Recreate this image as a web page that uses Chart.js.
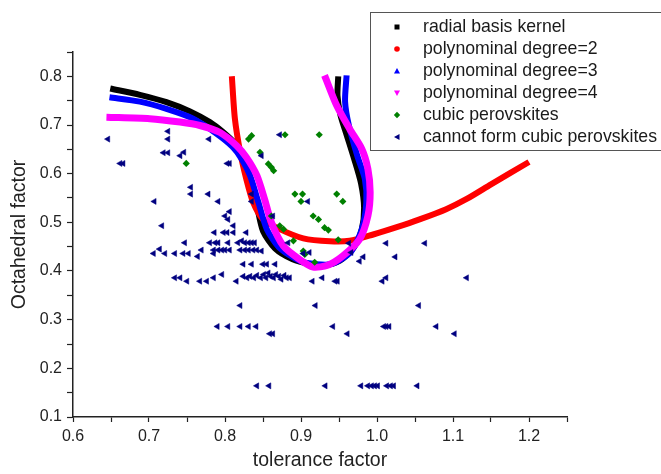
<!DOCTYPE html>
<html>
<head>
<meta charset="utf-8">
<script src="https://cdn.jsdelivr.net/npm/chart.js@4"></script>
<style>
  html, body { margin: 0; padding: 0; background: #fff; }
  #wrap { width: 661px; height: 474px; }
</style>
</head>
<body>
<div id="wrap"><canvas id="chart" width="661" height="474"></canvas></div>
<script>
// Series names (legend order)
const seriesNames = [
  'radial basis kernel',
  'polynominal degree=2',
  'polynominal degree=3',
  'polynominal degree=4',
  'cubic perovskites',
  'cannot form cubic perovskites'
];

// Decision boundaries, [tolerance, octahedral]
const rbfCurve = [
  [0.649, 0.775], [0.688, 0.762], [0.723, 0.747], [0.754, 0.728], [0.780, 0.706],
  [0.797, 0.686], [0.812, 0.664], [0.826, 0.630], [0.835, 0.580], [0.842, 0.534],
  [0.850, 0.482], [0.866, 0.446], [0.889, 0.424], [0.912, 0.414], [0.930, 0.411],
  [0.951, 0.421], [0.970, 0.450], [0.980, 0.486], [0.983, 0.530], [0.979, 0.580],
  [0.970, 0.630], [0.960, 0.680], [0.952, 0.720], [0.948, 0.760], [0.949, 0.800]
];
const poly2Curve = [
  [0.809, 0.800], [0.813, 0.713], [0.820, 0.644], [0.828, 0.589], [0.837, 0.541],
  [0.850, 0.506], [0.872, 0.486], [0.903, 0.467], [0.938, 0.461], [0.964, 0.462],
  [0.995, 0.475], [1.026, 0.490], [1.056, 0.506], [1.091, 0.527], [1.118, 0.548],
  [1.150, 0.578], [1.200, 0.624]
];
const poly3Curve = [
  [0.648, 0.757], [0.688, 0.748], [0.723, 0.733], [0.758, 0.713], [0.789, 0.682],
  [0.810, 0.655], [0.822, 0.630], [0.833, 0.596], [0.844, 0.541], [0.855, 0.486],
  [0.872, 0.447], [0.898, 0.421], [0.920, 0.414], [0.942, 0.415], [0.966, 0.440],
  [0.980, 0.486], [0.986, 0.541], [0.984, 0.589], [0.974, 0.637], [0.963, 0.699],
  [0.958, 0.748], [0.960, 0.802]
];
const poly4Curve = [
  [0.644, 0.716], [0.701, 0.713], [0.741, 0.706], [0.767, 0.699], [0.793, 0.685],
  [0.815, 0.658], [0.828, 0.634], [0.842, 0.596], [0.852, 0.548], [0.861, 0.500],
  [0.877, 0.451], [0.898, 0.424], [0.916, 0.408], [0.935, 0.412], [0.955, 0.431],
  [0.977, 0.465], [0.988, 0.513], [0.991, 0.562], [0.988, 0.610], [0.980, 0.651],
  [0.964, 0.692], [0.947, 0.740], [0.931, 0.802]
];

// Samples
const cubicPoints = [
  [0.749, 0.621], [0.831, 0.671], [0.835, 0.678], [0.846, 0.644], [0.857, 0.620],
  [0.861, 0.613], [0.864, 0.606], [0.879, 0.680], [0.924, 0.680], [0.892, 0.558],
  [0.902, 0.558], [0.900, 0.543], [0.947, 0.558], [0.955, 0.543], [0.916, 0.513],
  [0.923, 0.506], [0.931, 0.489], [0.936, 0.484], [0.861, 0.513], [0.872, 0.493],
  [0.877, 0.486], [0.890, 0.462], [0.903, 0.441], [0.905, 0.434], [0.918, 0.418],
  [0.949, 0.464]
];
const nonCubicPoints = [
  [0.646, 0.671], [0.662, 0.621], [0.666, 0.621], [0.725, 0.687], [0.725, 0.671],
  [0.719, 0.643], [0.725, 0.643], [0.741, 0.637], [0.746, 0.644], [0.779, 0.671],
  [0.803, 0.621], [0.806, 0.621], [0.872, 0.680], [0.848, 0.637],
  [0.755, 0.572], [0.755, 0.558], [0.778, 0.558], [0.791, 0.543], [0.707, 0.543],
  [0.835, 0.558], [0.835, 0.543], [0.909, 0.543], [0.717, 0.493], [0.806, 0.522],
  [0.800, 0.513], [0.804, 0.506], [0.811, 0.493], [0.863, 0.513],
  [0.786, 0.479], [0.798, 0.479], [0.803, 0.479], [0.811, 0.479], [0.828, 0.479],
  [0.747, 0.458], [0.780, 0.458], [0.787, 0.458], [0.791, 0.458], [0.804, 0.458],
  [0.817, 0.458], [0.822, 0.462], [0.826, 0.458], [0.831, 0.458], [0.835, 0.458],
  [0.839, 0.458], [0.883, 0.458], [0.963, 0.457], [1.012, 0.457], [1.063, 0.457],
  [0.714, 0.445], [0.769, 0.443], [0.785, 0.443], [0.791, 0.443], [0.796, 0.443],
  [0.800, 0.443], [0.806, 0.443], [0.820, 0.443], [0.826, 0.443], [0.831, 0.443],
  [0.837, 0.443], [0.842, 0.443], [0.848, 0.441],
  [0.706, 0.436], [0.721, 0.436], [0.734, 0.436], [0.745, 0.436], [0.752, 0.436],
  [0.764, 0.430], [0.785, 0.436], [0.903, 0.436], [0.911, 0.438], [0.966, 0.438],
  [0.982, 0.429], [0.977, 0.420], [1.024, 0.429],
  [0.824, 0.414], [0.835, 0.414], [0.850, 0.414], [0.855, 0.414], [0.866, 0.414],
  [0.734, 0.386], [0.741, 0.386], [0.750, 0.379], [0.767, 0.379], [0.776, 0.379],
  [0.785, 0.386], [0.796, 0.393], [0.815, 0.379], [0.824, 0.389], [0.829, 0.386],
  [0.833, 0.389], [0.838, 0.386], [0.842, 0.391], [0.847, 0.386], [0.851, 0.393],
  [0.854, 0.386], [0.857, 0.396], [0.860, 0.389], [0.864, 0.386], [0.867, 0.393],
  [0.871, 0.389], [0.874, 0.383], [0.878, 0.391], [0.881, 0.386], [0.885, 0.386],
  [0.915, 0.379], [0.928, 0.386], [0.945, 0.379], [0.948, 0.379], [1.007, 0.379],
  [1.012, 0.386], [1.118, 0.386],
  [0.820, 0.329], [0.919, 0.329], [1.055, 0.329],
  [0.790, 0.286], [0.804, 0.286], [0.820, 0.286], [0.831, 0.286], [0.841, 0.286],
  [0.942, 0.286], [1.009, 0.286], [1.012, 0.286], [1.016, 0.286], [1.078, 0.286],
  [0.859, 0.271], [0.863, 0.271], [0.961, 0.271], [1.102, 0.271],
  [0.842, 0.164], [0.858, 0.164], [0.932, 0.164], [0.979, 0.164], [0.988, 0.164],
  [0.993, 0.164], [0.997, 0.164], [1.001, 0.164], [1.013, 0.164], [1.018, 0.164],
  [1.022, 0.164], [1.053, 0.164]
];

const colors = ['#000000', '#ff0000', '#0000ff', '#ff00ff', '#008000', '#000080'];

const toXY = arr => arr.map(p => ({ x: p[0], y: p[1] }));

function curve(i, pts, width, order) {
  return {
    label: seriesNames[i],
    data: toXY(pts),
    showLine: true,
    borderColor: colors[i],
    borderWidth: width,
    pointRadius: 0,
    tension: 0.25,
    order: order
  };
}

// Legend drawn inside a box, like the original figure
const boxLegend = {
  id: 'boxLegend',
  afterDraw(chart) {
    const ctx = chart.ctx;
    const left = 370, top = 12, rowH = 22;
    ctx.save();
    ctx.fillStyle = '#fff';
    ctx.fillRect(left, top, 300, 138);
    ctx.strokeStyle = '#555';
    ctx.lineWidth = 1;
    ctx.strokeRect(left + 0.5, top + 0.5, 300, 138);
    ctx.font = '17.7px "Liberation Sans", Arial, sans-serif';
    ctx.textBaseline = 'middle';
    seriesNames.forEach((name, i) => {
      const y = top + 15 + i * rowH;
      const x = 397;
      ctx.fillStyle = colors[i];
      ctx.beginPath();
      if (i === 0) {
        ctx.rect(x - 2.5, y - 2.5, 5, 5);
      } else if (i === 1) {
        ctx.arc(x, y, 2.8, 0, Math.PI * 2);
      } else if (i === 2) {
        ctx.moveTo(x, y - 3); ctx.lineTo(x + 3, y + 2.5); ctx.lineTo(x - 3, y + 2.5);
      } else if (i === 3) {
        ctx.moveTo(x, y + 3); ctx.lineTo(x + 3, y - 2.5); ctx.lineTo(x - 3, y - 2.5);
      } else if (i === 4) {
        ctx.moveTo(x, y - 3.2); ctx.lineTo(x + 3.2, y); ctx.lineTo(x, y + 3.2); ctx.lineTo(x - 3.2, y);
      } else {
        ctx.moveTo(x - 3, y); ctx.lineTo(x + 2.5, y - 3); ctx.lineTo(x + 2.5, y + 3);
      }
      ctx.closePath();
      ctx.fill();
      ctx.fillStyle = '#1a1a1a';
      ctx.fillText(name, 423, y);
    });
    ctx.restore();
  }
};

function tickLabel(v) {
  const t = Math.round(v * 100);
  return t % 10 === 0 ? (t / 100).toFixed(1) : '';
}

const axisColor = '#222';
const fontFamily = '"Liberation Sans", Arial, sans-serif';

new Chart(document.getElementById('chart'), {
  type: 'scatter',
  data: {
    datasets: [
      curve(0, rbfCurve, 6, 5),
      curve(1, poly2Curve, 6, 4),
      curve(2, poly3Curve, 6, 3),
      curve(3, poly4Curve, 7, 2),
      {
        label: seriesNames[4],
        data: toXY(cubicPoints),
        pointStyle: 'rectRot',
        pointRadius: 3.6,
        pointBorderWidth: 0,
        backgroundColor: colors[4],
        borderColor: colors[4],
        order: 1
      },
      {
        label: seriesNames[5],
        data: toXY(nonCubicPoints),
        pointStyle: 'triangle',
        rotation: -90,
        pointRadius: 3.5,
        pointBorderWidth: 0.5,
        backgroundColor: colors[5],
        borderColor: colors[5],
        order: 0
      }
    ]
  },
  options: {
    responsive: false,
    animation: false,
    events: [],
    layout: { padding: { top: 52, right: 94, left: 0, bottom: 0 } },
    plugins: { legend: { display: false }, tooltip: { enabled: false } },
    scales: {
      x: {
        type: 'linear',
        min: 0.6,
        max: 1.25,
        afterFit(scale) { scale.height = 57; },
        ticks: {
          stepSize: 0.05,
          autoSkip: false,
          maxRotation: 0,
          padding: 5,
          color: axisColor,
          font: { family: fontFamily, size: 16 },
          callback: tickLabel
        },
        grid: { drawOnChartArea: false, tickLength: 5, color: axisColor, tickWidth: 1.2 },
        border: { color: axisColor, width: 1.5 },
        title: {
          display: true,
          text: 'tolerance factor',
          color: axisColor,
          font: { family: fontFamily, size: 19.5 },
          padding: { top: 0, bottom: 2 }
        }
      },
      y: {
        type: 'linear',
        min: 0.1,
        max: 0.85,
        afterFit(scale) { scale.width = 73; },
        ticks: {
          stepSize: 0.05,
          autoSkip: false,
          padding: 5,
          color: axisColor,
          font: { family: fontFamily, size: 16 },
          callback: tickLabel
        },
        grid: { drawOnChartArea: false, tickLength: 6, color: axisColor, tickWidth: 1.2 },
        border: { color: axisColor, width: 1.5 },
        title: {
          display: true,
          text: 'Octahedral factor',
          color: axisColor,
          font: { family: fontFamily, size: 19.5 },
          padding: { top: 8, bottom: 0 }
        }
      }
    }
  },
  plugins: [boxLegend]
});
</script>
</body>
</html>
